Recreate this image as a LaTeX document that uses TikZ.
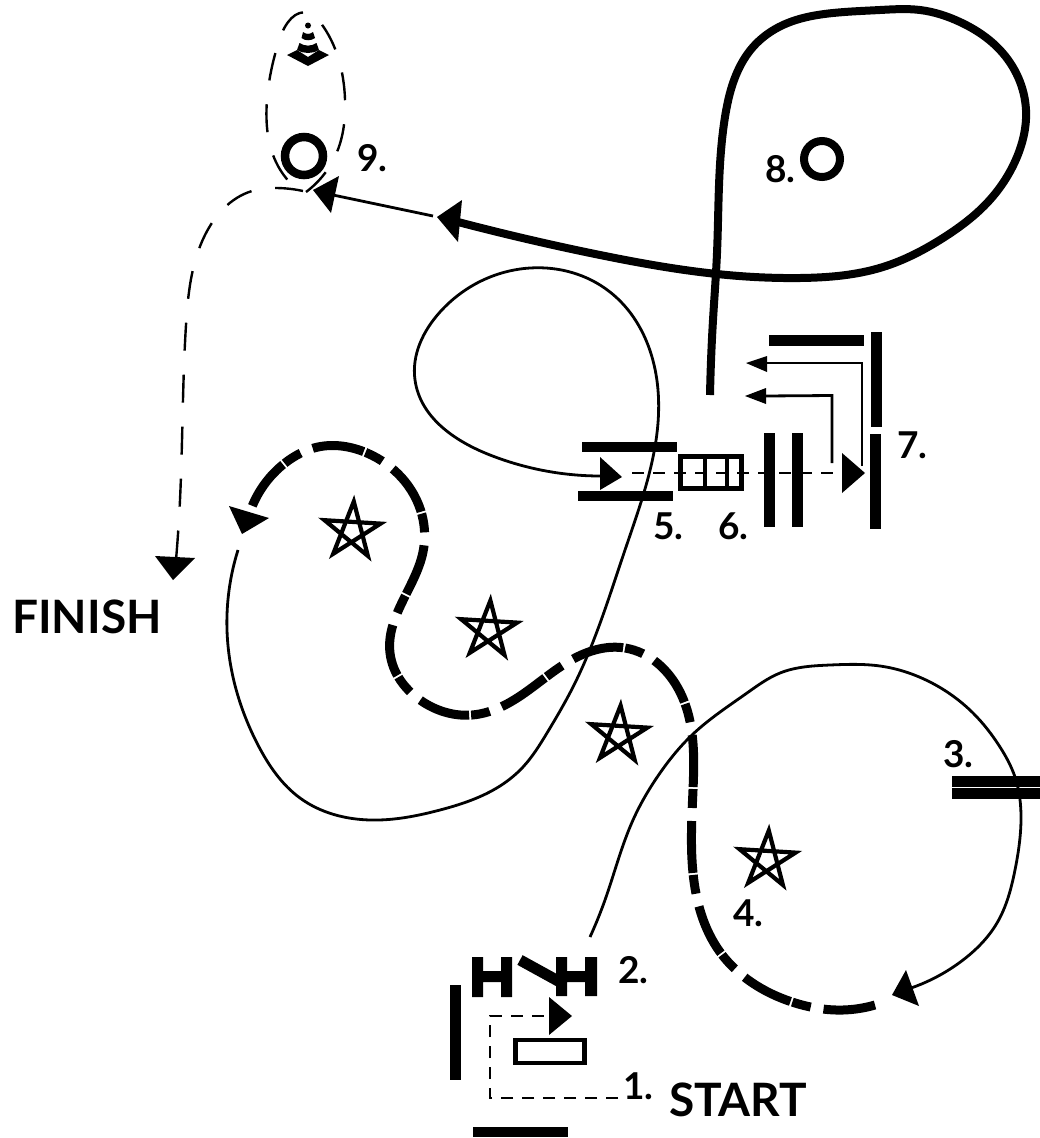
\documentclass[tikz,border=0pt]{standalone}
\usepackage{fontspec}
\usetikzlibrary{hobby}
\setmainfont{Lato}
\tikzset{
  bar/.style={fill=black,draw=none},
  hob/.style={use Hobby shortcut},
  thinline/.style={draw=black,line width=2.8pt},
  thickdash/.style={draw=black,line width=9pt,dash pattern=on 52pt off 13pt on 19pt off 2pt},
  thindash/.style={draw=black,line width=2.4pt,dash pattern=on 28pt off 24pt},
  shortdash/.style={draw=black,line width=2.6pt,dash pattern=on 12pt off 9pt},
  headfill/.style={fill=black,draw=none},
  num/.style={anchor=base west,inner sep=0pt,font=\fontsize{37}{40}\selectfont\bfseries},
  big/.style={anchor=base west,inner sep=0pt,font=\fontsize{46}{50}\selectfont\bfseries},
  pentagram/.style={draw=black,line width=4.2pt,miter limit=20,line join=miter}
}
\begin{document}
\begin{tikzpicture}[x=1pt,y=-1pt]
\useasboundingbox (0,0) rectangle (1040,1138);
\fill[white] (0,0) rectangle (1040,1138);

% thin route A: 2 to 4
\draw[thinline,hob] (590,937) .. (605,900) .. (633,820) .. (660,773) .. (692,735) .. (747,693) .. (780,673) .. (830,665) .. (880,666) .. (930,682) .. (973,713) .. (1000,747) .. (1015,777) .. (1021,820) .. (1015,870) .. (997,923) .. (963,960) .. (905,990);
\fill[headfill] (906,970) -- (919,1006) -- (892,995) -- cycle;

% thick dashed route B: stars
\draw[thickdash,hob] (875,1005) .. (843,1010) .. (792,1002) .. (720,952) .. (693,873) .. (693,790) .. (680,692) .. (625,648) .. (575,658) .. (505,705) .. (472,715) .. (423,702) .. (390,653) .. (423,552) .. (422,515) .. (367,453) .. (318,447) .. (285,463) .. (250,512);
\fill[headfill] (229,506) -- (269,518) -- (242,534) -- cycle;

% thin route C: 4 to 5
\draw[thinline,hob] (238,550) .. (227,630) .. (258,745) .. (300,798) .. (370,820) .. (440,810) .. (500,786) .. (523,767) .. (547,733) .. (573,687) .. (625,550) .. (658,390) .. (610,292) .. (530,268) .. (440,312) .. (415,380) .. (490,455) .. (603,476);
\fill[headfill] (600,457) -- (622,477) -- (600,490) -- cycle;

% gates 5
\fill[bar] (582,441.5) rectangle (677,452);
\fill[bar] (578,491) rectangle (673,501);

% dashed 5 to 7
\coordinate (d5) at (632,473);
\coordinate (d7) at (845,473);
\draw[shortdash] (d5) -- (d7);
\fill[headfill] (842,453) -- (865,473) -- (842,493) -- cycle;

% box 6
\draw[black,line width=5pt] (680.5,456.5) rectangle (741,488);
\draw[black,line width=4pt] (705,456.5) -- (705,488) (727,456.5) -- (727,488);
\fill[bar] (764,433) rectangle (775,527);
\fill[bar] (792,433) rectangle (803,527);

% gates 7
\fill[bar] (870,434) rectangle (881,529);
\fill[bar] (871,332) rectangle (882,427);
\fill[bar] (769,335) rectangle (864,346);
\draw[thinline] (862,466) -- (862,363) -- (765,363);
\fill[headfill] (746,363) -- (767,356) -- (767,372) -- cycle;
\draw[thinline] (832,463) -- (832,395.5) -- (764,396);
\fill[headfill] (745,396) -- (766,388) -- (766,404) -- cycle;

% thick route D: 7 to 9
\draw[draw=black,line width=8pt,hob] (710,395) .. (713,320) .. (717,253) .. (725,117) .. (733,83) .. (753,47) .. (783,25) .. (833,13) .. (880,10) .. (920,10) .. (960,22) .. (1000,50) .. (1026,110) .. (1017,157) .. (987,203) .. (943,238) .. (883,267) .. (800,278) .. (717,274) .. (600,255) .. (458,222);
\fill[headfill] (437,217) -- (462,200) -- (458,242) -- cycle;
\draw[thinline] (433,216) -- (333,195);
\fill[headfill] (313,190) -- (339,176) -- (331,213) -- cycle;

% circles
\coordinate (c9) at (304,156);
\coordinate (c8) at (822,159);
\draw[black,line width=8.5pt] (c9) circle (19);
\draw[black,line width=8pt] (c8) circle (18);

% dashed loop round cone
\draw[thindash,hob] (306,192) .. (337,152) .. (345,99) .. (320,22) .. (309,13) .. (280,38) .. (267,100) .. (278,166) .. (298,190);
\draw[thindash,hob] (303,191) .. (276,188) .. (252,191) .. (205,235) .. (186,325) .. (180,500) .. (176,560);
\fill[headfill] (155,556) -- (195,558) -- (173,580) -- cycle;

% cone
\fill[black] (308,25.5) circle (3);
\fill[black] (303,32) .. controls (306,34.5) and (310,34.5) .. (313,32) -- (315,38) .. controls (311,41) and (305,41) .. (301.5,38) -- cycle;
\fill[black] (299.5,43) .. controls (305,46.5) and (311,46.5) .. (316.5,43) -- (319,50) .. controls (312,54) and (304,54) .. (297,50) -- cycle;
\fill[black] (287,55) -- (297,50) -- (308,57) -- (319,50) -- (329,55) -- (308,66) -- cycle;

% start
\draw[black,line width=4.5pt] (515.5,1040) rectangle (584.5,1063);
\coordinate (s1) at (618,1098);
\coordinate (s2) at (490,1098);
\coordinate (s3) at (490,1016);
\coordinate (s4) at (551,1016);
\draw[shortdash] (s1) -- (s2) -- (s3) -- (s4);
\fill[headfill] (572,1016) -- (549,997) -- (549,1035) -- cycle;
\fill[bar] (450,985) rectangle (461,1080);
\fill[bar] (473,1127) rectangle (568,1137);

% H gates 2
\fill[bar] (472,957) rectangle (483,997) (501,957) rectangle (512,997) (472,971) rectangle (512,982);
\fill[bar] (556,957) rectangle (567,996) (585,957) rectangle (597,996) (556,971) rectangle (597,982);
\draw[black,line width=11pt] (520,960) -- (560,982);

% gate 3
\fill[bar] (952,776) rectangle (1040,787);
\fill[bar] (952,788) rectangle (1040,799);

% stars
\coordinate (star1) at (352,531);
\coordinate (star2) at (488.6,630);
\coordinate (star3) at (618.8,735);
\coordinate (star4) at (767,860);
\foreach \s in {star1,star2,star3,star4}{
  \draw[pentagram] ([shift={(-86.5:29.5)}]\s) -- ([shift={(57.5:29.5)}]\s) -- ([shift={(-158.5:29.5)}]\s) -- ([shift={(-14.5:29.5)}]\s) -- ([shift={(129.5:29.5)}]\s) -- cycle;
}

% labels
\node[num] (l1) at (623,1099) {1.};
\node[num] (l2) at (618,983) {2.};
\node[num] (l3) at (943,767) {3.};
\node[num] (l4) at (733,926) {4.};
\node[num] (l5) at (653,539) {5.};
\node[num] (l6) at (718,539) {6.};
\node[num] (l7) at (897,458) {7.};
\node[num] (l8) at (765,182) {8.};
\node[num] (l9) at (357,171) {9.};
\node[big] (start) at (669,1116) {START};
\node[big] (finish) at (12,633) {FINISH};
\end{tikzpicture}
\end{document}
